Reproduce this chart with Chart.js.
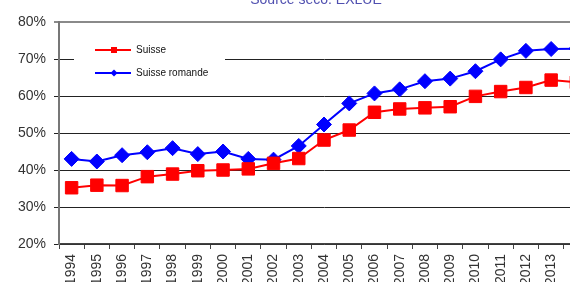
<!DOCTYPE html>
<html>
<head>
<meta charset="utf-8">
<script src="https://cdn.jsdelivr.net/npm/chart.js@4"></script>
<style>
  html, body { margin: 0; padding: 0; background: #fff; overflow: hidden; width: 570px; height: 282px; }
  #wrap { position: absolute; left: 0; top: -20px; width: 610px; height: 310px; }
</style>
</head>
<body>
<div id="wrap"><canvas id="chart" width="610" height="310"></canvas></div>
<script>
// years on the x axis (2014 runs off the right edge of the picture)
const years = ['1994', '1995', '1996', '1997', '1998', '1999', '2000', '2001', '2002', '2003', '2004',
               '2005', '2006', '2007', '2008', '2009', '2010', '2011', '2012', '2013', '2014'];
// share in %
const suisse = [35.2, 35.9, 35.8, 38.2, 38.9, 39.8, 40.0, 40.3, 41.8, 43.1, 48.1,
                50.8, 55.6, 56.5, 56.8, 57.1, 59.9, 61.2, 62.3, 64.3, 63.7];
const romande = [43.0, 42.3, 44.0, 44.8, 45.9, 44.3, 45.0, 43.0, 42.8, 46.5, 52.3,
                 58.0, 60.7, 61.8, 64.0, 64.7, 66.7, 69.9, 72.2, 72.7, 72.8];
const yMin = 20, yMax = 80, yStep = 10;
const titleText = 'Source seco: EXLUE';

// source line at the very top (mostly cut off)
const titlePlugin = {
    id: 'topTitle',
    afterDraw(chart) {
        const ctx = chart.ctx;
        ctx.save();
        ctx.font = '14px Arial, "Liberation Sans", sans-serif';
        ctx.fillStyle = '#5050b0';
        ctx.textAlign = 'center';
        ctx.textBaseline = 'alphabetic';
        ctx.fillText(titleText, 316, 24);
        ctx.restore();
    }
};

// legend box sitting inside the plot, hiding the gridline behind it
const boxLegend = {
    id: 'boxLegend',
    afterDraw(chart) {
        const ctx = chart.ctx;
        ctx.save();
        ctx.fillStyle = '#fff';
        ctx.fillRect(74, 55, 151, 50);
        chart.data.datasets.forEach((ds, i) => {
            const y = 70 + i * 23;
            ctx.strokeStyle = ds.borderColor;
            ctx.lineWidth = 2;
            ctx.beginPath();
            ctx.moveTo(95, y);
            ctx.lineTo(131, y);
            ctx.stroke();
            ctx.fillStyle = ds.borderColor;
            ctx.beginPath();
            if (ds.pointStyle === 'rect') {
                ctx.rect(111, y - 3, 6, 6);
            } else {
                ctx.moveTo(114, y - 3.5);
                ctx.lineTo(117.5, y);
                ctx.lineTo(114, y + 3.5);
                ctx.lineTo(110.5, y);
                ctx.closePath();
            }
            ctx.fill();
            ctx.fillStyle = '#111';
            ctx.font = '10px Arial, "Liberation Sans", sans-serif';
            ctx.textAlign = 'left';
            ctx.textBaseline = 'middle';
            ctx.fillText(ds.label, 136, y);
        });
        ctx.restore();
    }
};

const ctx = document.getElementById('chart').getContext('2d');
const chart = new Chart(ctx, {
    type: 'line',
    data: {
        labels: years,
        datasets: [{
            label: 'Suisse',
            data: suisse,
            borderColor: '#ff0000',
            backgroundColor: '#ff0000',
            borderWidth: 2,
            pointStyle: 'rect',
            pointRadius: 8.8,
            pointBorderWidth: 1,
            tension: 0
        }, {
            label: 'Suisse romande',
            data: romande,
            borderColor: '#0000ff',
            backgroundColor: '#0000ff',
            borderWidth: 2,
            pointStyle: 'rectRot',
            pointRadius: 7.5,
            pointBorderWidth: 1,
            tension: 0
        }]
    },
    options: {
        responsive: false,
        animation: false,
        layout: { padding: { top: 42, left: 0, right: 21, bottom: 0 } },
        plugins: {
            legend: { display: false },
            tooltip: { enabled: false }
        },
        scales: {
            x: {
                offset: true,
                afterFit: function (scale) { scale.height = 46; },
                grid: {
                    offset: true,
                    drawOnChartArea: false,
                    drawTicks: true,
                    tickLength: 5,
                    color: '#444'
                },
                border: { color: '#444', width: 1.5 },
                ticks: {
                    autoSkip: false,
                    minRotation: 90,
                    maxRotation: 90,
                    padding: 5,
                    color: '#333',
                    font: { family: 'Arial, "Liberation Sans", sans-serif', size: 14 }
                }
            },
            y: {
                min: yMin,
                max: yMax,
                afterFit: function (scale) { scale.width = 59; },
                grid: {
                    color: ctx => ctx.tick && ctx.tick.value === yMax ? '#8a8a8a' : '#222',
                    lineWidth: ctx => ctx.tick && ctx.tick.value === yMax ? 2 : 1,
                    tickLength: 5
                },
                border: { color: '#777', width: 2 },
                ticks: {
                    stepSize: yStep,
                    padding: 8,
                    color: '#333',
                    font: { family: 'Arial, "Liberation Sans", sans-serif', size: 14 },
                    callback: v => v + '%'
                }
            }
        }
    },
    plugins: [titlePlugin, boxLegend]
});
</script>
</body>
</html>
